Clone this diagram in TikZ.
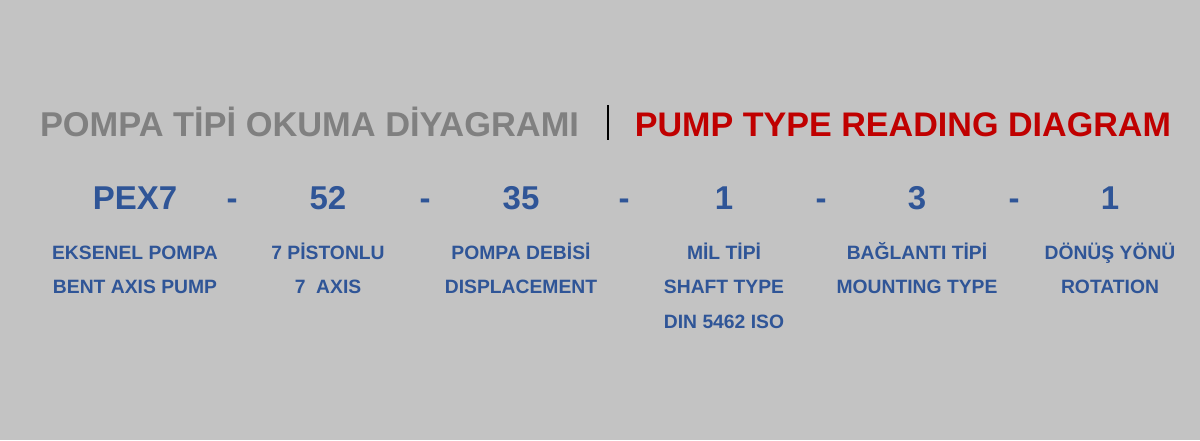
\documentclass[tikz,border=0pt]{standalone}
\usepackage{fontspec}
\setmainfont{Liberation Sans}
\definecolor{bg}{HTML}{C3C3C3}
\definecolor{tgray}{HTML}{808080}
\definecolor{tred}{HTML}{C00000}
\definecolor{tblue}{HTML}{2F5597}
\begin{document}
\begin{tikzpicture}[x=1pt,y=-1pt,
  every node/.style={inner sep=0pt,outer sep=0pt,anchor=base},
  ttl/.style={font=\fontsize{34.4}{40}\selectfont\bfseries},
  ttlr/.style={font=\fontsize{34.1}{40}\selectfont\bfseries},
  code/.style={font=\fontsize{33}{38}\selectfont\bfseries,text=tblue},
  lbl/.style={font=\fontsize{19.3}{22}\selectfont\bfseries,text=tblue}]
\fill[bg] (0,0) rectangle (1200,440);
\useasboundingbox (0,0) rectangle (1200,440);
% titles
\node[ttl,text=tgray,anchor=base west] (tr) at (40,136) {POMPA TİPİ OKUMA DİYAGRAMI};
\node[ttlr,text=tred,anchor=base east] (en) at (1171,136) {PUMP TYPE READING DIAGRAM};
\draw[black,line width=2pt] (608,105) -- (608,140);
% code row
\node[code] (c1) at (135,209) {PEX7};
\node[code] (d1) at (232,209) {-};
\node[code] (c2) at (328,209) {52};
\node[code] (d2) at (425,209) {-};
\node[code] (c3) at (521,209) {35};
\node[code] (d3) at (624,209) {-};
\node[code] (c4) at (724,209) {1};
\node[code] (d4) at (821,209) {-};
\node[code] (c5) at (917,209) {3};
\node[code] (d5) at (1014,209) {-};
\node[code] (c6) at (1110,209) {1};
% labels
\node[lbl] (l1a) at (135,259) {EKSENEL POMPA};
\node[lbl] (l1b) at (135,293) {BENT AXIS PUMP};
\node[lbl] (l2a) at (328,259) {7 PİSTONLU};
\node[lbl] (l2b) at (328,293) {7\ \ AXIS};
\node[lbl] (l3a) at (521,259) {POMPA DEBİSİ};
\node[lbl] (l3b) at (521,293) {DISPLACEMENT};
\node[lbl] (l4a) at (724,259) {MİL TİPİ};
\node[lbl] (l4b) at (724,293) {SHAFT TYPE};
\node[lbl] (l4c) at (724,328) {DIN 5462 ISO};
\node[lbl] (l5a) at (917,259) {BAĞLANTI TİPİ};
\node[lbl] (l5b) at (917,293) {MOUNTING TYPE};
\node[lbl] (l6a) at (1110,259) {DÖNÜŞ YÖNÜ};
\node[lbl] (l6b) at (1110,293) {ROTATION};
\end{tikzpicture}
\end{document}
